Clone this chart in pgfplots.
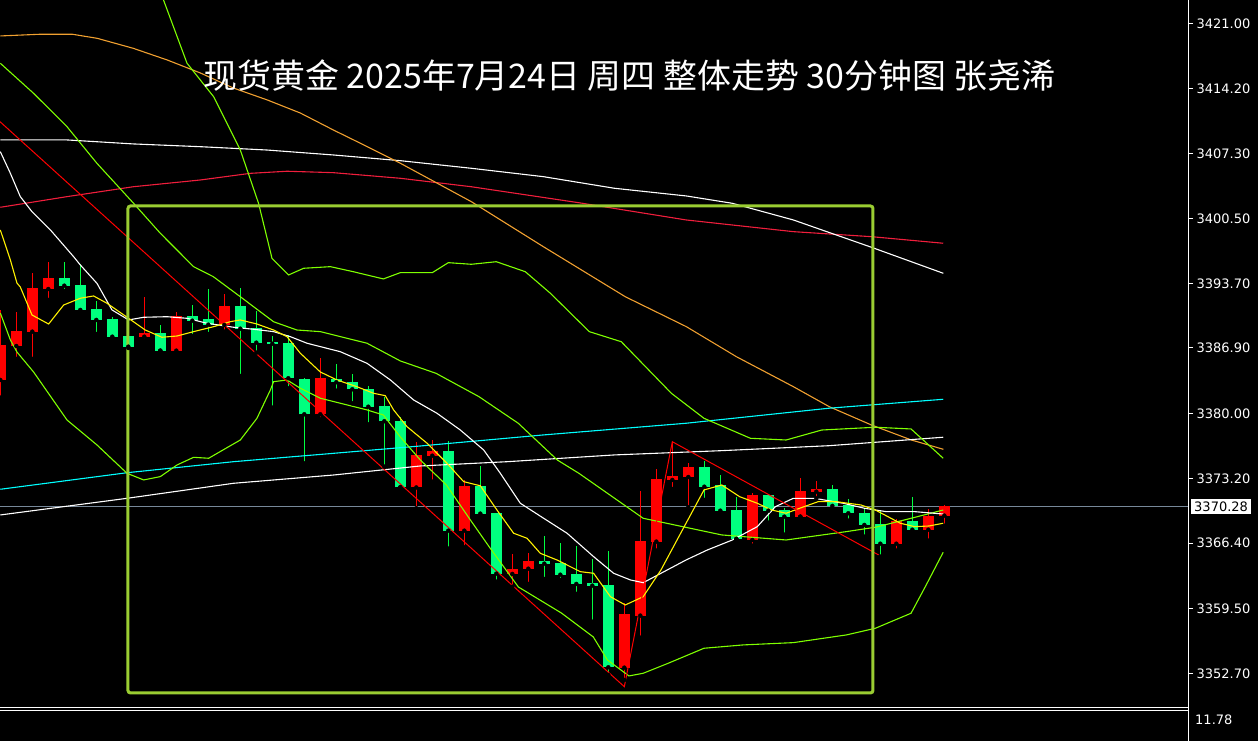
\documentclass[border=0pt]{standalone}
\usepackage{fontspec}
\setmainfont{DejaVu Sans}
\newfontfamily\cjk{Noto Sans CJK SC}
\usepackage{pgfplots}
\usepackage{pgfplotstable}
\pgfplotsset{compat=1.18}

\definecolor{upred}{HTML}{FF0000}
\definecolor{dnbody}{HTML}{00FF7F}
\definecolor{dnwick}{HTML}{00FF40}
\definecolor{bbgreen}{HTML}{7FFF00}
\definecolor{boxgreen}{HTML}{9ACD32}
\definecolor{maorange}{HTML}{F0A030}
\definecolor{macrimson}{HTML}{F01E3C}
\definecolor{pricegray}{HTML}{778899}
\definecolor{macyan}{HTML}{00FFFF}

% 30 minute candles, index k = bar number from the left edge
\pgfplotstableread{
k o h l c
0 3383.54 3390.90 3381.68 3387.22
1 3387.11 3390.69 3385.75 3388.69
2 3388.62 3394.79 3385.75 3393.21
3 3393.10 3395.94 3391.95 3394.26
4 3394.26 3395.94 3392.89 3393.45
5 3393.52 3395.73 3390.69 3390.90
6 3391.00 3391.84 3388.37 3389.85
7 3389.95 3390.19 3387.95 3388.09
8 3388.16 3388.48 3386.90 3387.04
9 3388.09 3392.26 3387.67 3388.48
10 3388.48 3389.32 3386.62 3386.62
11 3386.62 3390.69 3386.30 3390.27
12 3390.27 3391.42 3388.16 3389.77
13 3389.95 3393.10 3388.37 3389.35
14 3389.32 3392.58 3388.62 3391.32
15 3391.32 3393.21 3383.96 3388.93
16 3389.00 3390.79 3386.41 3387.46
17 3387.53 3388.16 3380.63 3387.35
18 3387.43 3388.27 3382.67 3383.72
19 3383.61 3383.72 3374.78 3379.93
20 3379.93 3385.82 3379.41 3383.72
21 3383.61 3385.22 3382.41 3383.30
22 3383.30 3384.17 3381.09 3382.56
23 3382.56 3382.91 3378.88 3380.73
24 3380.81 3381.78 3374.43 3379.20
25 3379.23 3379.62 3372.26 3372.26
26 3372.24 3377.02 3370.05 3375.66
27 3375.58 3377.23 3372.85 3376.08
28 3376.08 3377.13 3365.81 3367.70
29 3367.70 3373.03 3365.95 3372.43
30 3372.40 3374.50 3369.17 3369.49
31 3369.59 3369.59 3362.34 3363.18
32 3363.15 3365.25 3361.81 3363.70
33 3363.70 3365.39 3362.10 3364.51
34 3364.51 3367.14 3362.62 3364.23
35 3364.30 3366.44 3362.52 3363.07
36 3363.15 3366.12 3361.05 3362.10
37 3362.20 3364.73 3358.13 3361.92
38 3361.99 3365.57 3352.53 3353.34
39 3353.30 3360.07 3352.01 3358.94
40 3358.77 3371.87 3356.45 3366.62
41 3366.55 3374.19 3365.60 3373.13
42 3373.03 3377.05 3372.08 3373.45
43 3373.34 3374.85 3370.16 3374.40
44 3374.40 3375.03 3370.93 3372.32
45 3372.50 3373.55 3369.53 3369.80
46 3369.87 3371.27 3366.83 3366.83
47 3366.72 3371.69 3366.12 3371.45
48 3371.45 3371.45 3368.54 3369.80
49 3369.87 3370.12 3367.28 3369.17
50 3369.17 3373.24 3369.17 3371.87
51 3371.80 3372.92 3371.10 3372.08
52 3372.08 3372.50 3369.87 3370.30
53 3370.40 3371.03 3368.75 3369.53
54 3369.59 3370.05 3367.07 3368.30
55 3368.37 3369.77 3364.97 3366.33
56 3366.33 3368.93 3365.60 3368.75
57 3368.75 3371.24 3367.59 3367.80
58 3367.80 3369.95 3366.65 3369.28
59 3369.28 3370.40 3368.22 3370.28
}\candles

\pgfplotsset{
  candlebar/.style 2 args={only marks, mark=none, forget plot,
    error bars/y dir=plus, error bars/y explicit, error bars/error mark=none,
    error bars/error bar style={draw=#1, line width=#2}},
  ind/.style={#1, line width=1.1pt, no marks},
}

\begin{document}
\begin{tikzpicture}
\fill[black] (0,0) rectangle (1258pt,741pt);

\begin{axis}[
  at={(0pt,35pt)}, anchor=south west,
  width=1188pt, height=706pt, scale only axis,
  xmin=-0.019, xmax=74.23,
  ymin=3349.27, ymax=3423.48,
  axis x line=none, axis y line*=right,
  axis line style={white, line width=1pt},
  ytick={3352.70,3359.50,3366.40,3373.20,3380.00,3386.90,3393.70,3400.50,3407.30,3414.20,3421.00},
  tick align=outside, major tick length=5pt,
  ytick style={white, line width=1pt},
  yticklabel style={text=white, font=\fontsize{13}{15}\selectfont,
    /pgf/number format/.cd, fixed, fixed zerofill, precision=2, 1000 sep={}},
  /pgf/number format/assume math mode=true,
]

% current price line
\addplot[pricegray, line width=1pt, forget plot] coordinates {(-1,3370.28) (75,3370.28)};

% candles: red = rising, green = falling
\addplot[candlebar={upred}{1.1pt}, restrict expr to domain={\thisrow{c}-\thisrow{o}}{0:1000}]
  table[x=k, y=l, y error expr=\thisrow{h}-\thisrow{l}] {\candles};
\addplot[candlebar={dnwick}{1.1pt}, restrict expr to domain={\thisrow{c}-\thisrow{o}}{-1000:0}]
  table[x=k, y=l, y error expr=\thisrow{h}-\thisrow{l}] {\candles};
\addplot[candlebar={upred}{11pt}, restrict expr to domain={\thisrow{c}-\thisrow{o}}{0:1000}]
  table[x=k, y=o, y error expr={max(\thisrow{c}-\thisrow{o},0.22)}] {\candles};
\addplot[candlebar={dnbody}{11pt}, restrict expr to domain={\thisrow{c}-\thisrow{o}}{-1000:0}]
  table[x=k, y=c, y error expr={max(\thisrow{o}-\thisrow{c},0.22)}] {\candles};

% long moving averages
\addplot[ind=macrimson] coordinates {
 (0,3401.69) (4.17,3402.81) (8.31,3403.85) (12.5,3404.56) (15.63,3405.26)
 (17.92,3405.48) (20.81,3405.33) (25,3404.74) (29.44,3403.85) (36.16,3402.17)
 (42.86,3400.36) (49.56,3399.13) (54.46,3398.60) (58.93,3397.91)};
\addplot[ind=white] coordinates {
 (0,3408.77) (4.17,3408.77) (8.31,3408.35) (12.5,3408.06) (16.67,3407.71)
 (20.81,3407.19) (25,3406.59) (29.44,3405.79) (33.94,3404.91) (38.38,3403.69)
 (42.88,3402.88) (45.75,3402.11) (49.56,3400.36) (54.44,3397.49) (58.94,3394.75)};
\addplot[ind=maorange] coordinates {
 (0,3419.70) (2.5,3419.88) (4.5,3419.88) (6.06,3419.45) (8.31,3418.40)
 (10.44,3417.17) (12.5,3415.81) (14.56,3414.23) (16.69,3412.97) (18.75,3411.60)
 (20.81,3409.82) (22.94,3408.06) (25,3406.32) (29.44,3402.28) (33.94,3397.55)
 (39.06,3392.29) (42.88,3389.14) (46,3385.99) (49.56,3382.84) (51.81,3380.73)
 (54.44,3378.81) (56.94,3377.23) (58.94,3376.25)};
\addplot[ind=macyan] coordinates {
 (0,3372.05) (7.92,3373.79) (14.58,3374.95) (20.83,3375.83) (26.25,3376.60)
 (33.93,3377.76) (42.86,3378.99) (51.79,3380.57) (58.93,3381.51)};
\addplot[ind=white] coordinates {
 (0,3369.35) (7.92,3371.10) (14.58,3372.68) (20.83,3373.55) (26.25,3374.50)
 (31.69,3374.95) (38.38,3375.66) (45.09,3376.11) (51.79,3376.63) (58.93,3377.52)};

% bands
\addplot[ind=bbgreen] coordinates {
 (9.6,3426.10) (10.2,3423.48) (11.67,3416.83) (13.33,3413.32) (15,3407.71)
 (16.14,3402.11) (16.98,3396.33) (18.02,3394.58) (18.96,3395.28) (20.63,3395.45)
 (22.06,3394.92) (23.94,3394.16) (25,3394.82) (27,3394.82) (28,3395.87)
 (29.44,3395.70) (31,3395.97) (32.81,3394.92) (34.38,3392.65) (36.81,3388.62)
 (38.81,3387.56) (41.94,3382.14) (43.98,3379.51) (46.88,3377.41) (49.11,3377.23)
 (51.34,3378.28) (54.69,3378.57) (56.92,3378.39) (58.93,3375.31)};
\addplot[ind=bbgreen] coordinates {
 (0,3416.83) (2.08,3413.67) (4.17,3410.16) (6.04,3406.31) (8.33,3402.11)
 (10,3398.96) (12.08,3395.45) (13.31,3394.40) (15,3392.29) (17.08,3389.66)
 (18.54,3388.79) (20,3388.62) (22.92,3387.40) (25,3385.54) (27.23,3384.24)
 (29.91,3381.79) (32.37,3378.99) (34.81,3375.13) (36.16,3373.73) (40.18,3369.00)
 (45.09,3367.25) (49.11,3366.72) (52.88,3367.60) (54.69,3368.06) (56.92,3369.00)
 (58.93,3369.87)};
\addplot[ind=bbgreen] coordinates {
 (0,3390.58) (0.63,3387.74) (1.04,3386.48) (2.08,3384.38) (4.17,3379.33)
 (6.04,3376.71) (7.92,3373.73) (8.96,3373.03) (10,3373.38) (11.04,3374.60)
 (12.08,3375.41) (13.02,3375.31) (15,3377.23) (16.04,3379.51) (16.88,3382.49)
 (17.08,3383.36) (17.92,3383.54) (18.75,3382.67) (20,3381.62) (22.92,3380.39)
 (23.94,3379.86) (25,3377.55) (26.25,3375.13) (27.88,3372.50) (29.38,3368.82)
 (30.56,3365.99) (32.38,3361.78) (35.06,3359.05) (37.06,3356.53) (37.94,3354.11)
 (39.29,3352.43) (40.18,3352.71) (41.74,3353.76) (43.98,3355.34) (46.43,3355.69)
 (49.56,3355.93) (52.88,3356.74) (54.69,3357.44) (56.92,3359.02) (57.81,3361.81)
 (58.93,3365.43)};

% short moving averages
\addplot[ind=white] coordinates {
 (0,3407.54) (0.63,3405.26) (1.25,3402.81) (1.98,3401.23) (3.13,3399.31)
 (4.58,3396.50) (5,3395.63) (6.04,3393.70) (6.98,3390.90) (8.02,3389.85)
 (8.96,3390.13) (10.42,3390.19) (11.67,3390.02) (12.92,3389.50) (14.58,3389.08)
 (15.83,3388.87) (17.08,3388.62) (18.13,3388.09) (19.17,3387.40) (21.25,3386.51)
 (22.92,3385.29) (24.38,3383.54) (25.83,3381.44) (27.29,3380.04) (28.75,3378.28)
 (30.21,3376.18) (31.25,3373.73) (32.5,3370.58) (33.96,3369.00) (35.42,3367.43)
 (37.08,3364.97) (38.33,3363.22) (39.38,3362.52) (40.18,3362.23) (41.29,3363.22)
 (42.86,3364.62) (44.19,3365.67) (45.75,3366.72) (47.31,3368.12) (48.44,3370.22)
 (49.56,3371.10) (50.89,3371.10) (52.68,3370.58) (54.02,3370.05) (55.36,3369.70)
 (57.14,3369.70) (58.93,3369.45)};
\addplot[ind=yellow] coordinates {
 (0,3399.31) (0.63,3396.15) (1.04,3393.73) (1.25,3393.31) (1.98,3390.37)
 (3.02,3389.42) (3.96,3391.42) (5,3392.13) (5.83,3392.37) (6.67,3391.60)
 (8.02,3390.02) (9.06,3388.79) (10.1,3388.03) (11.04,3388.16) (12.08,3388.62)
 (13.33,3389.14) (14.38,3389.67) (15,3389.85) (16.04,3389.42) (17.08,3388.79)
 (17.92,3388.09) (18.75,3386.35) (20,3384.38) (21.04,3383.54) (22.29,3382.83)
 (23.33,3382.14) (24.06,3381.89) (24.58,3380.39) (25.42,3378.63) (26.67,3376.89)
 (27.92,3374.78) (28.96,3372.85) (30,3372.42) (31.04,3369.87) (32.08,3367.43)
 (32.92,3366.90) (33.75,3365.32) (34.79,3364.62) (36.25,3363.39) (37.08,3363.22)
 (38.13,3360.76) (39.06,3359.89) (40.18,3360.76) (41.29,3363.57) (42.63,3367.77)
 (43.98,3371.98) (45.09,3372.50) (46.21,3371.27) (47.31,3370.58) (48.21,3369.87)
 (49.11,3369.53) (50.23,3370.22) (51.12,3370.75) (52.23,3370.75) (53.79,3370.40)
 (54.69,3369.87) (56.25,3368.48) (57.14,3368.12) (58.04,3368.19) (58.93,3368.48)};

% drawn trend lines
\addplot[upred, line width=1pt, forget plot] coordinates {
 (-0.02,3410.69) (39.0,3351.30) (42.0,3377.05) (54.9,3365.14)};

% marked zone
\addplot[boxgreen, line width=3pt, rounded corners=2.5pt, forget plot] coordinates {
 (7.98,3401.83) (54.54,3401.83) (54.54,3350.64) (7.98,3350.64)} -- cycle;
\end{axis}

% right scale and lower window frame
\draw[white, line width=1pt] (1188.5pt,0) -- (1188.5pt,741pt);
\draw[white, line width=1pt] (0,33.5pt) -- (1188.5pt,33.5pt);
\draw[white, line width=1pt] (0,30.5pt) -- (1188.5pt,30.5pt);
\node[anchor=west, inner sep=0pt, text=white, font=\fontsize{13}{15}\selectfont]
  at (1195pt,21pt) {11.78};
\node[anchor=west, fill=white, text=black, font=\fontsize{13}{15}\selectfont,
  inner xsep=3pt, inner ysep=2.3pt, text height=9.5pt, text depth=0pt]
  at (1191pt,234.5pt) {3370.28};

\node[text=white, font=\cjk\fontsize{33.9}{40}\selectfont] at (629.5pt,665pt)
  {现货黄金 2025年7月24日 周四 整体走势 30分钟图 张尧浠};

\pgfresetboundingbox
\useasboundingbox (0,0) rectangle (1258pt,741pt);
\end{tikzpicture}
\end{document}
